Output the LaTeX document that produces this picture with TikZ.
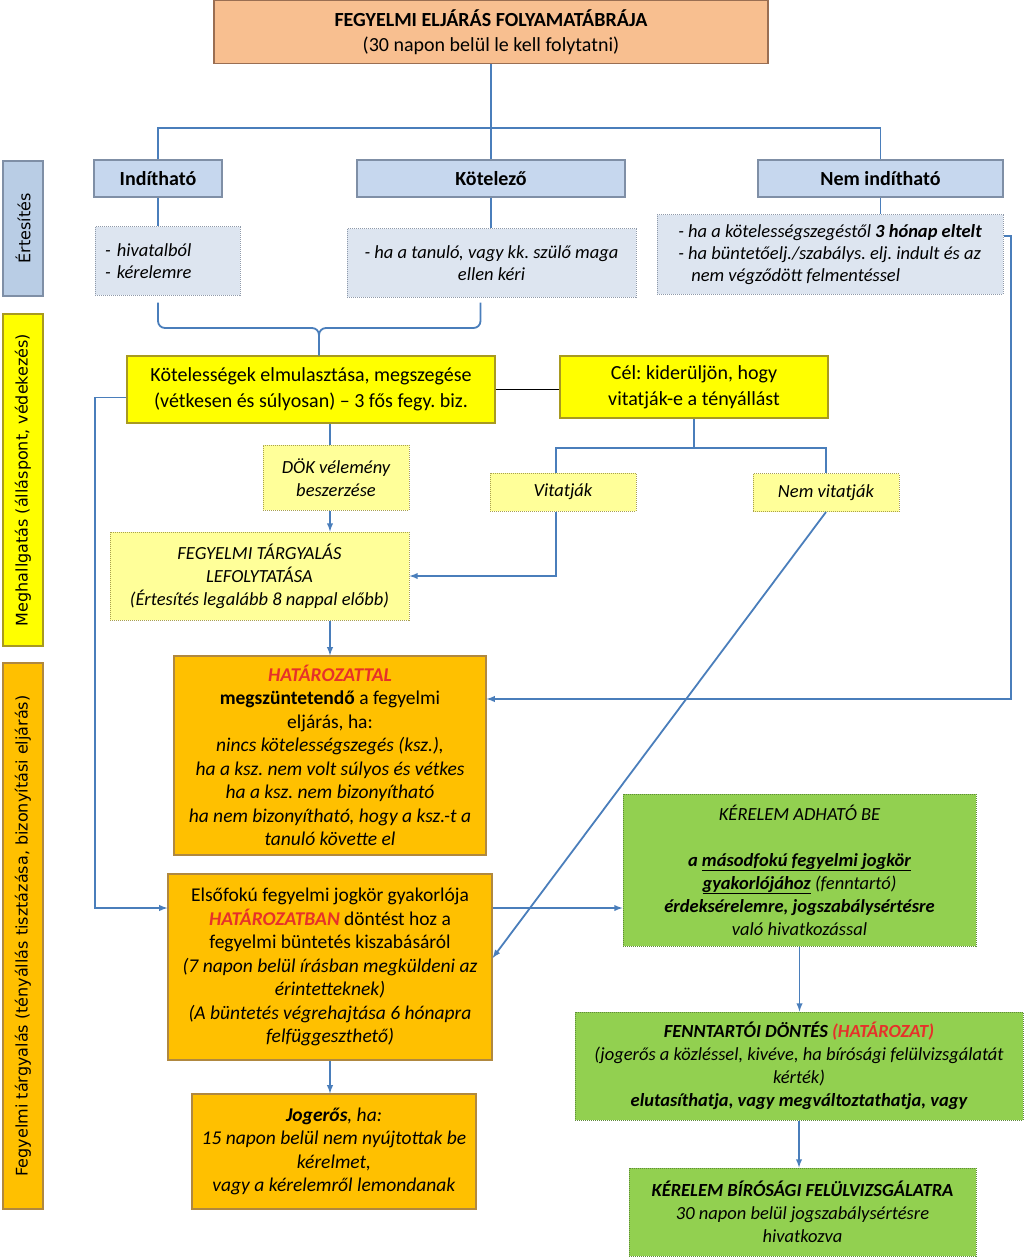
\documentclass[tikz,border=0pt]{standalone}
\usepackage{fontspec}
\setmainfont{Carlito}
\newfontfamily\lblfont{DejaVu Sans}
\frenchspacing

\definecolor{linblu}{HTML}{4A7EBB}
\definecolor{salfil}{HTML}{F8BF90}
\definecolor{salbrd}{HTML}{9A6E52}
\definecolor{blufil}{HTML}{C6D7EE}
\definecolor{blubrd}{HTML}{7F8FA6}
\definecolor{lbufil}{HTML}{B9CDE5}
\definecolor{subfil}{HTML}{DDE5F0}
\definecolor{subbrd}{HTML}{8F9AAA}
\definecolor{yelfil}{HTML}{FFFF00}
\definecolor{yelbrd}{HTML}{A89A20}
\definecolor{lyefil}{HTML}{FFFF99}
\definecolor{lyebrd}{HTML}{A8A050}
\definecolor{orafil}{HTML}{FFC000}
\definecolor{orabrd}{HTML}{B08840}
\definecolor{grnfil}{HTML}{92D050}
\definecolor{grnbrd}{HTML}{5E8A3A}
\definecolor{hred}{HTML}{E6312A}

\tikzset{
    recsal/.style={draw=salbrd,fill=salfil,line width=1.2pt,align=center,font=\fontsize{20}{25}\selectfont},
    recblu/.style={draw=blubrd,fill=blufil,line width=1.2pt,minimum height=37pt,align=center,font=\bfseries\fontsize{20}{24}\selectfont},
    dotblu/.style={densely dotted,draw=subbrd,fill=subfil,line width=1pt,font=\itshape\fontsize{18.5}{22}\selectfont},
    recyel/.style={draw=yelbrd,fill=yelfil,line width=1.2pt,align=center,font=\fontsize{20}{26}\selectfont},
    dotyel/.style={densely dotted,draw=lyebrd,fill=lyefil,line width=1pt,align=center,font=\itshape\fontsize{18.5}{23}\selectfont},
    recora/.style={draw=orabrd,fill=orafil,line width=1.2pt,align=center,font=\fontsize{19.5}{23.5}\selectfont},
    dotgrn/.style={densely dotted,draw=grnbrd,fill=grnfil,line width=1pt,align=center,font=\itshape\fontsize{18.5}{23}\selectfont},
    lblbox/.style={draw,rotate=90,minimum height=40pt,inner sep=0pt,line width=1.2pt,font=\lblfont\fontsize{16}{19}\selectfont}
}

\begin{document}
\begin{tikzpicture}[x=1pt,y=-1pt]
        \useasboundingbox (0,0) rectangle (1024,1257);
        %---
        \node[lblbox,draw=blubrd,fill=lbufil,minimum width=135pt] (l-ert) at (23,228.5) {Értesítés};
        \node[lblbox,draw=yelbrd,fill=yelfil,minimum width=332pt] (l-meg) at (23,480) {Meghallgatás (álláspont, védekezés)};
        \node[lblbox,draw=orabrd,fill=orafil,minimum width=546pt] (l-fegy) at (23,936) {Fegyelmi tárgyalás (tényállás tisztázása, bizonyítási eljárás)};

        %---
        \node[recsal,minimum width=554pt,minimum height=63pt] (t-elj) at (491,32) {\textbf{FEGYELMI ELJÁRÁS FOLYAMATÁBRÁJA}\\(30 napon belül le kell folytatni)};

        \node[recblu,minimum width=128pt] (h-ind) at (158,178.5) {Indítható};
        \node[recblu,minimum width=268pt] (h-kot) at (491,178.5) {Kötelező};
        \node[recblu,minimum width=245pt] (h-nem) at (880.5,178.5) {Nem indítható};

        \node[dotblu,minimum width=145pt,minimum height=68pt,align=left,text width=125pt] (s-ind) at (167.5,261) {- hivatalból\\- kérelemre};
        \node[dotblu,minimum width=289pt,minimum height=68pt,align=center] (s-kot) at (491.5,263) {- ha a tanuló, vagy kk. szülő maga\\ellen kéri};
        \node[dotblu,minimum width=346pt,minimum height=79pt,align=left] (s-nem) at (830,254.5) {- ha a kötelességszegéstől \textbf{3 hónap eltelt}\\- ha büntetőelj./szabálys. elj. indult és az\\\hspace*{0.7em}nem végződött felmentéssel};

        \node[recyel,minimum width=368pt,minimum height=67pt] (k-mul) at (311,389.5) {Kötelességek elmulasztása, megszegése\\(vétkesen és súlyosan) – 3 fős fegy. biz.};
        \node[recyel,minimum width=268pt,minimum height=62pt] (k-cel) at (694,387) {Cél: kiderüljön, hogy\\vitatják-e a tényállást};

        \node[dotyel,minimum width=146pt,minimum height=65pt] (m-dok) at (336,477.5) {DÖK vélemény\\beszerzése};
        \node[dotyel,minimum width=146pt,minimum height=38pt] (m-vit) at (563,492) {Vitatják};
        \node[dotyel,minimum width=146pt,minimum height=38pt] (m-nvit) at (826,492.5) {Nem vitatják};
        \node[dotyel,minimum width=299pt,minimum height=88pt] (m-targy) at (259.5,576) {FEGYELMI TÁRGYALÁS\\LEFOLYTATÁSA\\(Értesítés legalább 8 nappal előbb)};

        \node[recora,minimum width=312pt,minimum height=199pt] (f-hat) at (330,755.5) {{\color{hred}\bfseries\itshape HATÁROZATTAL}\\\textbf{megszüntetendő} a fegyelmi\\eljárás, ha:\\\textit{nincs kötelességszegés (ksz.),}\\\textit{ha a ksz. nem volt súlyos és vétkes}\\\textit{ha a ksz. nem bizonyítható}\\\textit{ha nem bizonyítható, hogy a ksz.-t a}\\\textit{tanuló követte el}};
        \node[recora,minimum width=324pt,minimum height=186pt] (f-elso) at (330,967) {Elsőfokú fegyelmi jogkör gyakorlója\\{\color{hred}\bfseries\itshape HATÁROZATBAN} döntést hoz a\\fegyelmi büntetés kiszabásáról\\\textit{(7 napon belül írásban megküldeni az}\\\textit{érintetteknek)}\\\textit{(A büntetés végrehajtása 6 hónapra}\\\textit{felfüggeszthető)}};
        \node[recora,minimum width=284pt,minimum height=115pt] (f-jog) at (334,1151.5) {\textit{\textbf{Jogerős}, ha:}\\\textit{15 napon belül nem nyújtottak be}\\\textit{kérelmet,}\\\textit{vagy a kérelemről lemondanak}};

        \node[dotgrn,minimum width=353pt,minimum height=152pt] (g-kad) at (799.5,870) {KÉRELEM ADHATÓ BE\\[23pt]\textbf{a \underline{másodfokú fegyelmi jogkör}}\\\textbf{\underline{gyakorlójához}} (fenntartó)\\\textbf{érdeksérelemre, jogszabálysértésre}\\való hivatkozással};
        \node[dotgrn,minimum width=448pt,minimum height=108pt] (g-font) at (799,1066) {\textbf{FENNTARTÓI DÖNTÉS {\color{hred}(HATÁROZAT)}}\\(jogerős a közléssel, kivéve, ha bírósági felülvizsgálatát\\kérték)\\\textbf{elutasíthatja, vagy megváltoztathatja, vagy}};
        \node[dotgrn,minimum width=347pt,minimum height=88pt] (g-bir) at (802.5,1212) {\textbf{KÉRELEM BÍRÓSÁGI FELÜLVIZSGÁLATRA}\\30 napon belül jogszabálysértésre\\hivatkozva};

        \coordinate (c-fel) at (319,328);
        \coordinate (c-szet) at (694,448);
        \coordinate (c-bal) at (95,908);
        \coordinate (c-jobb) at (1011,699);

        \begin{scope}[every path/.style={draw=linblu,line width=1.8pt}]
            \draw (t-elj.south -| h-kot.north) -- (h-kot.north);
            \draw (h-ind.north) -- ++(0,-31) -| (h-nem.north);
            \draw (h-ind.south) -- (h-ind.south |- s-ind.north);
            \draw (h-kot.south) -- (h-kot.south |- s-kot.north);
            \draw (h-nem.south) -- (h-nem.south |- s-nem.north);
            \draw[rounded corners=7pt] ([yshift=-7pt]h-ind.south |- s-ind.south) |- (c-fel) -- (c-fel |- k-mul.north);
            \draw[rounded corners=7pt] ([xshift=-11pt,yshift=-5pt]s-kot.south) |- (c-fel) -- (c-fel |- k-mul.north);
            \draw[black,line width=1.3pt] (k-mul.east) -- (k-mul.east -| k-cel.west);
            \draw (k-mul.south -| f-hat.north) -- (m-dok.north -| f-hat.north);
            \draw (k-cel.south) -- (c-szet);
            \draw ([xshift=-7pt]m-vit.north) |- (c-szet) -| (m-nvit.north);
        \end{scope}

        \begin{scope}[every path/.style={draw=linblu,line width=1.8pt,-latex}]
            \draw (m-dok.south -| f-hat.north) -- (m-targy.north -| f-hat.north);
            \draw (m-targy.south -| f-hat.north) -- (f-hat.north);
            \draw ([xshift=-7pt]m-vit.south) |- (m-targy.east);
            \draw (m-nvit.south) -- ([yshift=9pt]f-elso.east);
            \draw ([yshift=18.5pt]s-nem.east) -| (c-jobb) -- (c-jobb -| f-hat.east);
            \draw ([yshift=-8pt]k-mul.west) -| (c-bal) -- (c-bal -| f-elso.west);
            \draw (c-bal -| f-elso.east) -- (c-bal -| g-kad.west);
            \draw (f-elso.south) -- (f-elso.south |- f-jog.north);
            \draw (g-kad.south) -- (g-kad.south |- g-font.north);
            \draw (g-font.south) -- (g-font.south |- g-bir.north);
        \end{scope}
    \end{tikzpicture}
\end{document}
